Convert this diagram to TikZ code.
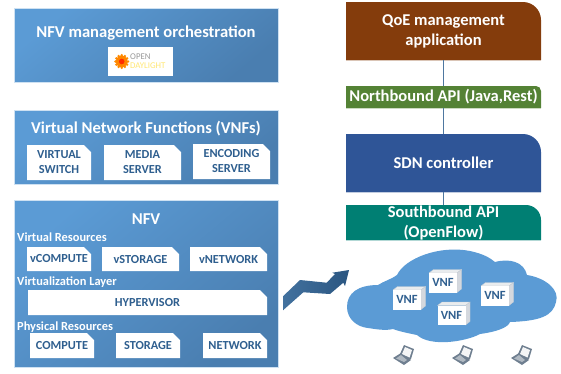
\documentclass[tikz,border=0pt]{standalone}
\usepackage{fontspec}
\setmainfont{Carlito}
\usetikzlibrary{calc}
\definecolor{bluetop}{HTML}{5B9BD5}
\definecolor{bluebot}{HTML}{4A7EB0}
\definecolor{txtblue}{HTML}{2F5F8F}
\definecolor{qoe}{HTML}{843C0C}
\definecolor{nb}{HTML}{548235}
\definecolor{sdn}{HTML}{2F5597}
\definecolor{sb}{HTML}{007F73}
\definecolor{lap}{HTML}{6F7F90}
\tikzset{
 x=1pt,y=-1pt,
 panel/.style={draw=white!70!bluetop,line width=.5pt,left color=bluetop,right color=bluebot,shading angle=40,anchor=north west,inner sep=0pt},
 paneltitle/.style={text=white,font=\bfseries\fontsize{16.6}{18}\selectfont,align=center},
 sectionlabel/.style={text=white,font=\bfseries\fontsize{12.4}{13}\selectfont,anchor=west,inner sep=0pt},
 snip/.style={text=txtblue,font=\bfseries\fontsize{12.3}{15}\selectfont,align=center,inner sep=0pt},
 apilabel/.style={text=white,font=\bfseries\fontsize{16.5}{20}\selectfont,align=center,inner sep=0pt},
 vnflabel/.style={text=txtblue,font=\bfseries\fontsize{12.5}{13}\selectfont,inner sep=0pt},
 link/.style={draw=txtblue!85!white,line width=.9pt},
}
% snipped white box: name, x1,y1,x2,y2, text
\newcommand{\snipbox}[6]{%
 \fill[white] (#2,#3) -- (#4-7,#3) -- (#4,#3+7) -- (#4,#5) -- (#2,#5) -- cycle;
 \node[snip,minimum width=#4pt-#2pt,minimum height=#5pt-#3pt] (#1) at ({(#2+#4)/2},{(#3+#5)/2}) {#6};}
% block with rounded top-right corner: name,x1,y1,x2,y2,radius,colour,text
\newcommand{\apibox}[8]{%
 \fill[#7] (#2,#3) -- (#4-#6,#3) .. controls (#4-.45*#6,#3) and (#4,#3+.45*#6) .. (#4,#3+#6) -- (#4,#5) -- (#2,#5) -- cycle;
 \draw[white!70!#7,line width=.4pt] (#2,#5) -- (#4,#5);
 \node[apilabel,minimum width=#4pt-#2pt,minimum height=#5pt-#3pt] (#1) at ({(#2+#4)/2},{(#3+#5)/2}) {#8};}
% cube: name, x1,y1 (front top-left)
\newcommand{\vnfcube}[3]{%
 \fill[white!85!lap,draw=white!60!lap,line width=.3pt] (#2,#3) -- ++(4.5,-3.5) -- ++(28,0) -- ++(-4.5,3.5) -- cycle;
 \fill[white!70!lap,draw=white!60!lap,line width=.3pt] (#2+28,#3) -- ++(4.5,-3.5) -- ++(0,19.5) -- ++(-4.5,3.5) -- cycle;
 \node[vnflabel,fill=white,minimum width=28pt,minimum height=19.5pt] (#1) at (#2+14,#3+9.75) {VNF};}
% laptop: name, x, y (centre)
\newcommand{\laptop}[3]{%
 \coordinate (#1) at (#2,#3);
 \fill[lap] (#2-10,#3+2) -- (#2-2,#3-3) -- (#2+8,#3+4) -- (#2+1,#3+9) -- cycle;
 \fill[white!45!lap] (#2-7,#3+2.5) -- (#2-2,#3-1) -- (#2+4,#3+4) -- (#2+1,#3+6) -- cycle;
 \fill[lap] (#2-3,#3-2) -- (#2+1,#3-11) -- (#2+11,#3-7) -- (#2+8,#3+3) -- (#2+6,#3+4) -- cycle;
 \fill[white!92!lap] (#2-1,#3-2) -- (#2+2,#3-9) -- (#2+9,#3-6) -- (#2+6.5,#3+1.5) -- cycle;}
\begin{document}
\begin{tikzpicture}
\useasboundingbox (0,0) rectangle (561,373);
% left panels
\node[panel,minimum width=264pt,minimum height=74pt] (orch) at (14,8) {};
\node[paneltitle] (orchtitle) at (146,33) {NFV management orchestration};
\fill[white] (108,47) rectangle (173,76);
\foreach \a in {0,30,...,330}{\fill[orange!90!yellow] ($(121.7,61.5)+(\a:6.2)$) circle (1.4);}
\fill[orange!95!yellow] (121.7,61.5) circle (5.8);
\fill[red!65!orange] (121.7,61.5) circle (2.8);
\node[inner sep=0pt,font=\fontsize{8.8}{9}\selectfont,text=black!40,anchor=west] (logoa) at (130,56.5) {OPEN};
\node[inner sep=0pt,font=\fontsize{8.8}{9}\selectfont,text=orange!35!yellow!55!white,anchor=west] (logob) at (130,66) {DAYLIGHT};

\node[panel,minimum width=264pt,minimum height=74pt] (vnfs) at (14,110) {};
\node[paneltitle] (vnfstitle) at (146,129) {Virtual Network Functions (VNFs)};
\snipbox{vswitch}{27}{145}{91}{180}{VIRTUAL\\SWITCH}
\snipbox{media}{104}{145}{181}{180}{MEDIA\\SERVER}
\snipbox{encoding}{193}{144}{270}{179}{ENCODING\\SERVER}

\node[panel,minimum width=264pt,minimum height=167pt] (nfv) at (14,200) {};
\node[paneltitle] (nfvtitle) at (146,219) {NFV};
\node[sectionlabel] (vres) at (17,237) {Virtual Resources};
\snipbox{vcompute}{27}{247}{91}{271}{vCOMPUTE}
\snipbox{vstorage}{102}{247}{179}{271}{vSTORAGE}
\snipbox{vnetwork}{190}{247}{267}{271}{vNETWORK}
\node[sectionlabel] (vlayer) at (17,282) {Virtualization Layer};
\snipbox{hyper}{28}{290}{267}{315}{HYPERVISOR}
\node[sectionlabel] (pres) at (17,327) {Physical Resources};
\snipbox{compute}{30}{333}{94}{358}{COMPUTE}
\snipbox{storage}{116}{333}{180}{358}{STORAGE}
\snipbox{network}{203}{333}{267}{358}{NETWORK}

% arrow
\shade[left color=bluebot!90!black,right color=txtblue!90!black]
 (283.3,310) -- (283.3,296) -- (300,280) -- (326.7,282.7) -- (335,274) -- (332.3,272.7) -- (349,270) -- (345,286) -- (343.3,282.7) -- (330,294) -- (303.3,292.3) -- cycle;

% right stack
\apibox{qoeb}{346}{2}{541}{60}{18}{qoe}{QoE management\\application}
\apibox{nbb}{346}{86}{541}{108}{5}{nb}{Northbound API (Java,Rest)}
\apibox{sdnb}{346}{134}{541}{192}{18}{sdn}{SDN controller}
\apibox{sbb}{346}{205}{541}{240}{15}{sb}{Southbound API\\(OpenFlow)}
\draw[link] (qoeb) -- (nbb);
\draw[link] (nbb) -- (sdnb);
\draw[link] (sdnb) -- (sbb);

% cloud
\fill[bluetop] (347,307) .. controls (347,293) and (358,285) .. (378,285)
 .. controls (384,281) and (392,279) .. (397,275)
 .. controls (405,258) and (440,245) .. (470,251)
 .. controls (484,254) and (490,258) .. (495,262)
 .. controls (510,258) and (524,262) .. (527,275)
 .. controls (546,278) and (560,290) .. (556,302)
 .. controls (553,316) and (540,321) .. (510,322)
 .. controls (508,328) and (495,332) .. (480,334)
 .. controls (465,342) and (430,347) .. (417,335)
 .. controls (407,333) and (398,331) .. (393,329)
 .. controls (385,331) and (375,329) .. (368,328)
 .. controls (357,327) and (347,319) .. (347,307) -- cycle;
\vnfcube{vnfa}{393}{290}
\vnfcube{vnfb}{429}{273}
\vnfcube{vnfc}{437.5}{305.5}
\vnfcube{vnfd}{481}{286}
\laptop{lapa}{403}{356}
\laptop{lapb}{462}{356}
\laptop{lapc}{521}{356}
\end{tikzpicture}
\end{document}
